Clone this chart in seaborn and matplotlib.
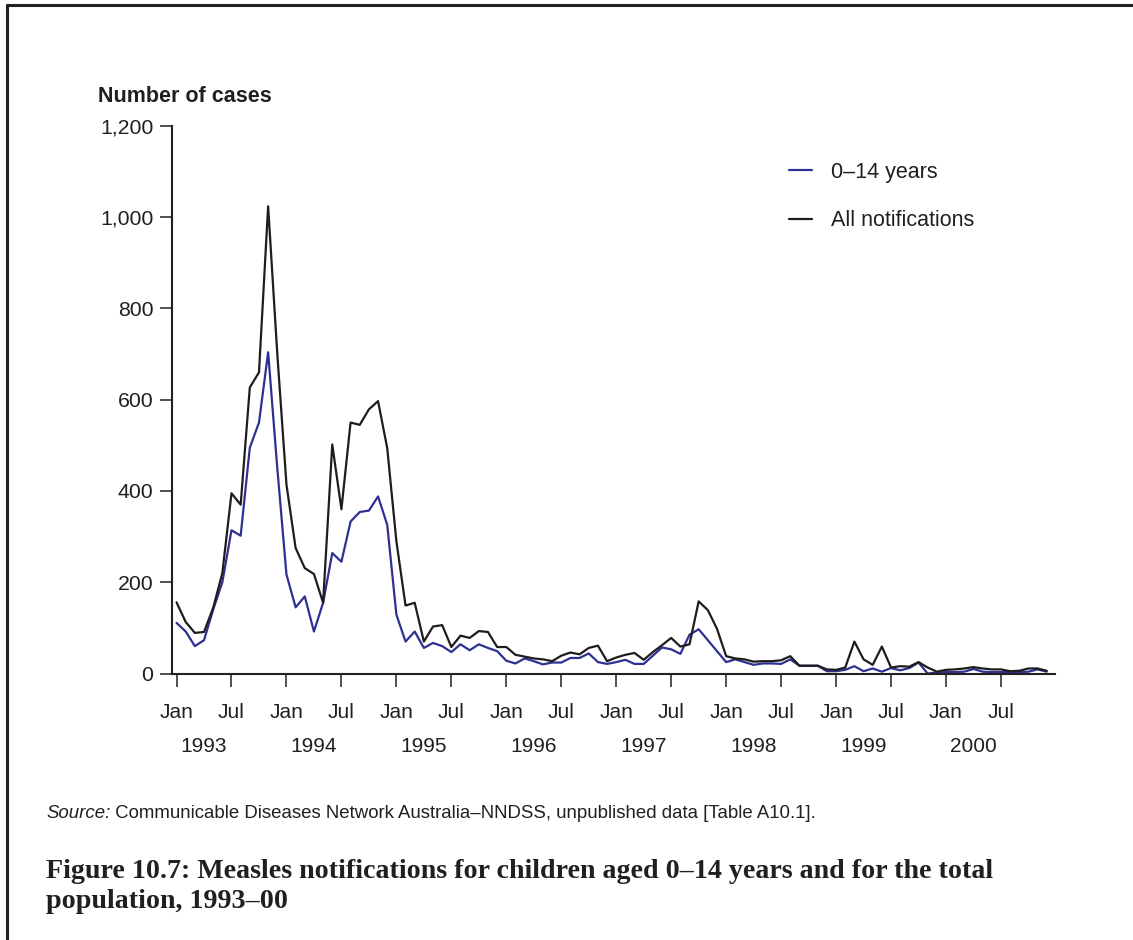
import numpy as np
import pandas as pd
import matplotlib
matplotlib.use("Agg")
import matplotlib.pyplot as plt
import matplotlib.transforms as mtransforms
from matplotlib.lines import Line2D
import seaborn as sns

# ---------------- data ----------------
years = [1993, 1994, 1995, 1996, 1997, 1998, 1999, 2000]
month_names = ["Jan", "Feb", "Mar", "Apr", "May", "Jun",
               "Jul", "Aug", "Sep", "Oct", "Nov", "Dec"]
tick_month_names = ["Jan", "Jul"]

all_notifications = [
    156, 113, 89, 91, 144, 220, 395, 370, 627, 660, 1024, 700,     # 1993
    414, 275, 231, 218, 155, 502, 360, 550, 545, 579, 597, 494,    # 1994
    290, 149, 155, 70, 103, 106, 58, 83, 78, 93, 91, 58,           # 1995
    58, 41, 37, 33, 31, 27, 39, 46, 42, 56, 61, 27,                # 1996
    35, 41, 45, 30, 47, 62, 78, 59, 64, 158, 139, 98,              # 1997
    38, 33, 31, 26, 27, 27, 29, 38, 17, 17, 17, 9,                 # 1998
    8, 13, 70, 31, 19, 59, 13, 16, 15, 25, 13, 4,                  # 1999
    8, 9, 11, 14, 11, 9, 9, 5, 6, 11, 11, 6,                       # 2000
]
age_0_14 = [
    111, 92, 60, 73, 140, 200, 314, 302, 495, 550, 704, 450,       # 1993
    217, 145, 169, 92, 155, 264, 245, 333, 354, 357, 388, 326,     # 1994
    129, 70, 92, 56, 67, 60, 47, 64, 51, 64, 56, 49,               # 1995
    28, 22, 33, 27, 20, 24, 24, 34, 34, 44, 25, 21,                # 1996
    25, 30, 21, 21, 39, 57, 53, 43, 85, 97, 73, 49,                # 1997
    25, 31, 25, 19, 22, 22, 21, 31, 17, 17, 17, 5,                 # 1998
    5, 8, 16, 5, 11, 4, 12, 7, 12, 24, 0, 2,                       # 1999
    3, 3, 4, 10, 4, 3, 3, 3, 3, 4, 9, 4,                           # 2000
]
series_names = ["0\u201314 years", "All notifications"]
y_ticks = [0, 200, 400, 600, 800, 1000, 1200]
y_tick_labels = ["0", "200", "400", "600", "800", "1,000", "1,200"]

y_label = "Number of cases"
source_lead = "Source:"
source_rest = "Communicable Diseases Network Australia\u2013NNDSS, unpublished data [Table A10.1]."
title_lines = ["Figure 10.7: Measles notifications for children aged 0\u201314 years and for the total",
               "population, 1993\u201300"]

# ---------------- table ----------------
n = len(all_notifications)
month_idx = np.arange(n)
df = pd.concat([
    pd.DataFrame({"month": month_idx, "cases": age_0_14, "series": series_names[0]}),
    pd.DataFrame({"month": month_idx, "cases": all_notifications, "series": series_names[1]}),
], ignore_index=True)

# ---------------- style ----------------
sns.set_theme(style="ticks")
plt.rcParams["font.family"] = ["Liberation Sans", "DejaVu Sans"]
TXT = "#231f20"
BLUE = "#2e3192"
BLACK = "#1f1c1d"
plt.rcParams["text.color"] = TXT
plt.rcParams["axes.edgecolor"] = TXT
plt.rcParams["xtick.color"] = TXT
plt.rcParams["ytick.color"] = TXT

W, H = 1133, 940
fig = plt.figure(figsize=(W / 100, H / 100), dpi=100)
fig.patch.set_facecolor("white")

def fx(px):
    return px / W

def fy(py):
    return 1 - py / H

ax_left, ax_right, ax_top, ax_bottom = 171.5, 1055, 126, 673.5
ax = fig.add_axes([fx(ax_left), fy(ax_bottom), fx(ax_right - ax_left), (ax_bottom - ax_top) / H])
ax.set_facecolor("white")

sns.lineplot(data=df, x="month", y="cases", hue="series", hue_order=series_names,
             palette={series_names[0]: BLUE, series_names[1]: BLACK},
             linewidth=1.6, ax=ax, legend=False, estimator=None)

ax.set_xlim(-0.55, 95.9)
ax.set_ylim(0, 1200)
ax.set_xlabel("")
ax.set_ylabel("")
sns.despine(ax=ax)
for s in ["left", "bottom"]:
    ax.spines[s].set_linewidth(1.5)
    ax.spines[s].set_color(TXT)

tick_pos = [i for i in month_idx if month_names[i % 12] in tick_month_names]
ax.set_xticks(tick_pos)
ax.set_xticklabels([month_names[i % 12] for i in tick_pos])
ax.set_yticks(y_ticks)
ax.set_yticklabels(y_tick_labels)
ax.tick_params(axis="x", length=9, width=1.1, pad=12, labelsize=15, direction="out")
ax.tick_params(axis="y", length=9, width=1.1, pad=4, labelsize=15.3, direction="out")

# year labels below month labels
blend = mtransforms.blended_transform_factory(ax.transData, fig.transFigure)
for k, yr in enumerate(years):
    ax.text(12 * k + 3, fy(747), str(yr), transform=blend, ha="center", va="center",
            fontsize=15, color=TXT)

# legend
handles = [Line2D([0], [0], color=BLUE, lw=1.6), Line2D([0], [0], color=BLACK, lw=1.6)]
leg = fig.legend(handles, series_names, loc="upper left",
                 bbox_to_anchor=(fx(789), fy(162)), bbox_transform=fig.transFigure,
                 frameon=False, fontsize=15.5, handlelength=1.05, handletextpad=0.88,
                 labelspacing=1.27, borderpad=0, borderaxespad=0)

# y axis title
fig.text(fx(98), fy(96), y_label, ha="left", va="center", fontsize=15.5,
         fontweight="bold", color=TXT)

# source line
fig.canvas.draw()
renderer = fig.canvas.get_renderer()
src_size = 12.0
t1 = fig.text(fx(46), fy(814), source_lead, ha="left", va="center", fontsize=src_size,
              fontstyle="italic", color=TXT)
t2 = fig.text(fx(46), fy(814), " " + source_rest, ha="left", va="center",
              fontsize=src_size, color=TXT)
w1 = t1.get_window_extent(renderer).width
w2 = t2.get_window_extent(renderer).width
scale = (817 - 46) / (w1 + w2)
src_size *= scale
t1.set_fontsize(src_size)
t2.set_fontsize(src_size)
w1 = t1.get_window_extent(renderer).width
t2.set_x(fx(46 + w1))

# figure title (serif bold)
tt_size = 17.0
title_texts = []
for i, (line, ypx) in enumerate(zip(title_lines, [871, 902])):
    t = fig.text(fx(46), fy(ypx), line, ha="left", va="center", fontsize=tt_size,
                 fontweight="bold", family=["Liberation Serif", "DejaVu Serif"], color=TXT)
    title_texts.append(t)
tw = title_texts[0].get_window_extent(renderer).width
tsize = tt_size * (995 - 46) / tw
for t in title_texts:
    t.set_fontsize(tsize)

# page frame (left and top edge)
fig.add_artist(Line2D([fx(7), fx(7)], [0, fy(5)], transform=fig.transFigure,
                      color=TXT, lw=2.2))
fig.add_artist(Line2D([fx(7), 1], [fy(5), fy(5)], transform=fig.transFigure,
                      color=TXT, lw=2.2))

fig.savefig("out.png", dpi=100, facecolor="white")
